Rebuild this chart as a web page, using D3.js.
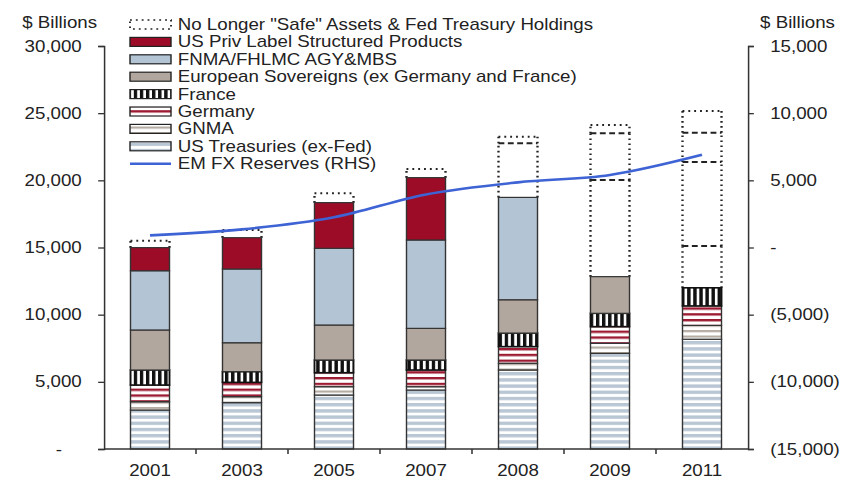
<!DOCTYPE html>
<html>
<head>
<meta charset="utf-8">
<script src="https://cdn.jsdelivr.net/npm/d3@7"></script>
<style>
  html, body { margin: 0; padding: 0; background: #fff; }
  svg { display: block; }
  text { font-family: "Liberation Sans", Arial, sans-serif; fill: #222; }
</style>
</head>
<body>
<div id="chart"></div>
<script>
const years = ["2001", "2003", "2005", "2007", "2008", "2009", "2011"];
const usTreasuries = [2900, 3450, 4020, 4390, 5880, 7120, 8170];
const gnma = [620, 450, 620, 250, 500, 750, 1030];
const germany = [1240, 1060, 1040, 1240, 1240, 1240, 1450];
const france = [1120, 800, 945, 745, 1010, 990, 1350];
const euroSovereigns = [2980, 2150, 2605, 2355, 2480, 2730, 0];
const fnmaFhlmc = [4410, 5490, 5710, 6580, 7620, 0, 0];
const privLabel = [1720, 2330, 3400, 4640, 0, 0, 0];
// dotted "no longer safe" block on top of each bar, split in pieces
const noLongerSafe = [[520], [570], [690], [640], [4030, 490], [7195, 3475, 620], [3110, 6250, 2190, 1610]];
const emFxReserves = [900, 1350, 2250, 3950, 4850, 5400, 6900];

const leftTicks = [0, 5000, 10000, 15000, 20000, 25000, 30000];
const rightTicks = [-15000, -10000, -5000, 0, 5000, 10000, 15000];

const legendLabels = [
  'No Longer "Safe" Assets & Fed Treasury Holdings',
  "US Priv Label Structured Products",
  "FNMA/FHLMC AGY&MBS",
  "European Sovereigns (ex Germany and France)",
  "France",
  "Germany",
  "GNMA",
  "US Treasuries (ex-Fed)",
  "EM FX Reserves (RHS)",
];

// the picture is horizontally stretched, so draw in a narrower box and stretch it
const K = 842 / 720;
const W = 720, H = 496;
const plotLeft = 104 / K, plotRight = 748 / K;
const plotTop = 46, plotBottom = 449;

const svg = d3
  .select("#chart")
  .append("svg")
  .attr("width", 842)
  .attr("height", H)
  .attr("viewBox", `0 0 ${W} ${H}`)
  .attr("preserveAspectRatio", "none");

const defs = svg.append("defs");

const hStripes = (id, color, band, period) => {
  const p = defs
    .append("pattern")
    .attr("id", id)
    .attr("patternUnits", "userSpaceOnUse")
    .attr("width", 10)
    .attr("height", period);
  p.append("rect").attr("width", 10).attr("height", period).attr("fill", "#fff");
  p.append("rect").attr("width", 10).attr("height", band).attr("fill", color);
};
hStripes("pUst", "#b9c7d5", 3.4, 6.2);
hStripes("pGnma", "#b5aca3", 2.2, 5.5);
hStripes("pGer", "#9c1a32", 2.4, 5.8);

const fr = defs
  .append("pattern")
  .attr("id", "pFra")
  .attr("patternUnits", "userSpaceOnUse")
  .attr("width", 5.2)
  .attr("height", 10);
fr.append("rect").attr("width", 5.2).attr("height", 10).attr("fill", "#fff");
fr.append("rect").attr("width", 2.9).attr("height", 10).attr("fill", "#111");

const series = [
  { key: "ust", values: usTreasuries, fill: "url(#pUst)" },
  { key: "gnma", values: gnma, fill: "url(#pGnma)" },
  { key: "germany", values: germany, fill: "url(#pGer)" },
  { key: "france", values: france, fill: "url(#pFra)" },
  { key: "euro", values: euroSovereigns, fill: "#b1a79e" },
  { key: "fnma", values: fnmaFhlmc, fill: "#b3c4d4" },
  { key: "priv", values: privLabel, fill: "#9d0c27" },
];

const rows = years.map((year, i) => {
  const r = { year };
  series.forEach((s) => (r[s.key] = s.values[i]));
  return r;
});

const stacked = d3.stack().keys(series.map((s) => s.key))(rows);

const x = d3.scaleBand().domain(years).range([plotLeft, plotRight]).paddingInner(0.576).paddingOuter(0.288);
const y = d3.scaleLinear().domain([0, 30000]).range([plotBottom, plotTop]);
const yR = d3.scaleLinear().domain([-15000, 15000]).range([plotBottom, plotTop]);

const totals = rows.map((r) => d3.sum(series, (s) => r[s.key]));

// dotted blocks
const dotted = "1.6,3.4";
const dashed = "5,3";
const nls = svg.append("g").attr("stroke", "#222").attr("stroke-width", 2).attr("fill", "none");
noLongerSafe.forEach((pieces, i) => {
  const x0 = x(years[i]);
  const x1 = x0 + x.bandwidth();
  let base = totals[i];
  pieces.forEach((v, j) => {
    const lo = base, hi = base + v;
    [x0, x1].forEach((xx) => {
      nls.append("line").attr("x1", xx).attr("x2", xx).attr("y1", y(lo)).attr("y2", y(hi))
        .attr("stroke-dasharray", dotted);
    });
    nls.append("line").attr("x1", x0).attr("x2", x1).attr("y1", y(hi)).attr("y2", y(hi))
      .attr("stroke-dasharray", j === pieces.length - 1 ? dotted : dashed);
    base = hi;
  });
});

// stacked bars
const bars = svg.append("g");
stacked.forEach((layer, k) => {
  bars
    .append("g")
    .selectAll("rect")
    .data(layer.filter((d) => d[1] - d[0] > 0))
    .join("rect")
    .attr("x", (d) => x(d.data.year))
    .attr("width", x.bandwidth())
    .attr("y", (d) => y(d[1]))
    .attr("height", (d) => y(d[0]) - y(d[1]))
    .attr("fill", series[k].fill)
    .attr("stroke", series[k].key === "france" ? "#111" : "#333")
    .attr("stroke-width", series[k].key === "france" ? 1.6 : 1.2);
});

// EM FX line
const line = d3
  .line()
  .x((d, i) => x(years[i]) + x.bandwidth() / 2)
  .y((d) => yR(d))
  .curve(d3.curveMonotoneX);

svg
  .append("path")
  .attr("d", line(emFxReserves))
  .attr("fill", "none")
  .attr("stroke", "#3e63d4")
  .attr("stroke-width", 2.6);

// axes
const fmt = d3.format(",");
const leftAxis = svg
  .append("g")
  .attr("transform", `translate(${plotLeft},0)`)
  .call(
    d3.axisLeft(y).tickValues(leftTicks).tickSize(5).tickPadding(14)
      .tickFormat((d) => (d === 0 ? "-" : fmt(d)))
  );
leftAxis.selectAll("text").filter((d) => d === 0).attr("x", -36);

const rightAxis = svg
  .append("g")
  .attr("transform", `translate(${plotRight},0)`)
  .call(
    d3.axisRight(yR).tickValues(rightTicks).tickSize(5).tickPadding(14)
      .tickFormat((d) => (d === 0 ? "-" : d < 0 ? `(${fmt(-d)})` : fmt(d)))
  );

[leftAxis, rightAxis].forEach((a) => {
  a.selectAll("path, line").attr("stroke", "#333").attr("stroke-width", 1.3);
  a.selectAll("text").style("font-size", "16px").attr("fill", "#222");
});

const xAxis = svg.append("g");
xAxis
  .append("line")
  .attr("x1", plotLeft).attr("x2", plotRight)
  .attr("y1", plotBottom).attr("y2", plotBottom)
  .attr("stroke", "#333").attr("stroke-width", 1.3);
xAxis
  .selectAll("line.tick")
  .data(years.slice(1))
  .join("line")
  .attr("class", "tick")
  .attr("x1", (d) => x(d) - (x.step() - x.bandwidth()) / 2)
  .attr("x2", (d) => x(d) - (x.step() - x.bandwidth()) / 2)
  .attr("y1", plotBottom)
  .attr("y2", plotBottom + 5)
  .attr("stroke", "#333")
  .attr("stroke-width", 1.3);
xAxis
  .selectAll("text")
  .data(years)
  .join("text")
  .attr("x", (d) => x(d) + x.bandwidth() / 2)
  .attr("y", 470)
  .attr("dy", "0.35em")
  .attr("text-anchor", "middle")
  .style("font-size", "16px")
  .text((d) => d);

svg.append("text").attr("x", 19).attr("y", 22).attr("dy", "0.35em").style("font-size", "16px").text("$ Billions");
svg.append("text").attr("x", 650).attr("y", 22).attr("dy", "0.35em").style("font-size", "16px").text("$ Billions");

// legend
const legendFills = ["none", "#9d0c27", "#b3c4d4", "#b1a79e", "url(#pFra)", "url(#pGer)", "url(#pGnma)", "url(#pUst)"];
const lg = svg.append("g");
const lx = 130 / K, lw = 41 / K, rowY = (i) => 24.5 + 17.4 * i;

legendLabels.forEach((label, i) => {
  const cy = rowY(i);
  if (i === legendLabels.length - 1) {
    lg.append("line").attr("x1", lx).attr("x2", lx + lw).attr("y1", cy).attr("y2", cy)
      .attr("stroke", "#3e63d4").attr("stroke-width", 2.6);
  } else if (i === 0) {
    lg.append("rect").attr("x", lx).attr("y", cy - 4.5).attr("width", lw).attr("height", 9)
      .attr("fill", "none").attr("stroke", "#222").attr("stroke-width", 1.6)
      .attr("stroke-dasharray", dotted);
  } else {
    lg.append("rect").attr("x", lx).attr("y", cy - 4.5).attr("width", lw).attr("height", 9)
      .attr("fill", legendFills[i]).attr("stroke", "#222").attr("stroke-width", 1.2);
  }
  lg.append("text").attr("x", 152).attr("y", cy).attr("dy", "0.35em")
    .style("font-size", "16px").text(label);
});
</script>
</body>
</html>
